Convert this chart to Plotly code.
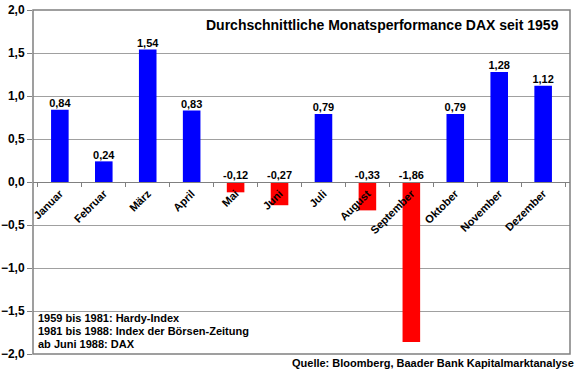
import plotly.graph_objects as go

months = ["Januar", "Februar", "März", "April", "Mai", "Juni", "Juli",
          "August", "September", "Oktober", "November", "Dezember"]
values = [0.84, 0.24, 1.54, 0.83, -0.12, -0.27, 0.79, -0.33, -1.86, 0.79, 1.28, 1.12]
y_ticks = [-2.0, -1.5, -1.0, -0.5, 0.0, 0.5, 1.0, 1.5, 2.0]

title_text = "Durchschnittliche Monatsperformance DAX seit 1959"
notes_text = ["1959 bis 1981: Hardy-Index",
              "1981 bis 1988: Index der Börsen-Zeitung",
              "ab Juni 1988: DAX"]
source_text = "Quelle: Bloomberg, Baader Bank Kapitalmarktanalyse"

FONT = "Arial, Liberation Sans, sans-serif"
colors = ["#0000FF" if v >= 0 else "#FF0000" for v in values]
labels = [f"<b>{v:.2f}</b>".replace(".", ",") for v in values]
label_y = [max(v, 0) for v in values]

fig = go.Figure()
fig.add_trace(go.Bar(x=months, y=values, marker=dict(color=colors, line=dict(width=0)),
                     hoverinfo="skip"))
fig.add_trace(go.Scatter(x=months, y=label_y, mode="text", text=labels,
                         textposition="top center",
                         textfont=dict(family=FONT, size=11, color="black"),
                         hoverinfo="skip"))

fig.update_layout(
    width=580, height=375,
    margin=dict(l=33, r=10, t=10, b=21, autoexpand=False),
    paper_bgcolor="white", plot_bgcolor="white",
    showlegend=False, bargap=0.6,
    separators=",.",
    font=dict(family=FONT, color="black"),
)
fig.update_yaxes(range=[-2, 2], tickvals=y_ticks, tickformat=".1f", automargin=False,
                 ticks="outside", ticklen=5, tickcolor="#808080",
                 showgrid=True, gridcolor="#A0A0A0", gridwidth=1,
                 zeroline=False, showline=False,
                 tickfont=dict(family=FONT, size=12, color="black", weight="bold"))
fig.update_xaxes(type="category", anchor="free", position=0.5, automargin=False,
                 showline=True, linecolor="#808080", linewidth=1,
                 ticks="outside", ticklen=4, tickcolor="#808080", tickson="boundaries",
                 tickangle=-45, showgrid=False,
                 tickfont=dict(family=FONT, size=11, color="black", weight="bold"))

fig.add_shape(type="rect", xref="paper", yref="paper", x0=0, x1=1, y0=0, y1=1,
              line=dict(color="#808080", width=1.5), layer="above")

fig.add_annotation(xref="paper", yref="paper", x=0.983, y=0.956,
                   xanchor="right", yanchor="middle", showarrow=False,
                   text=f"<b>{title_text}</b>",
                   font=dict(family=FONT, size=14, color="black"))
for line, yp in zip(notes_text, [0.1047, 0.0669, 0.0291]):
    fig.add_annotation(xref="paper", yref="paper", x=0.006, y=yp,
                       xanchor="left", yanchor="middle", showarrow=False, align="left",
                       text=f"<b>{line}</b>",
                       font=dict(family=FONT, size=11, color="black"))
fig.add_annotation(xref="paper", yref="paper", x=1.011, y=-0.027,
                   xanchor="right", yanchor="middle", showarrow=False,
                   text=f"<b>{source_text}</b>",
                   font=dict(family=FONT, size=11, color="black"))

fig.write_html("out.html", config={"displayModeBar": False, "staticPlot": True},
               post_script="document.body.style.margin='0';document.body.style.overflow='hidden';")
